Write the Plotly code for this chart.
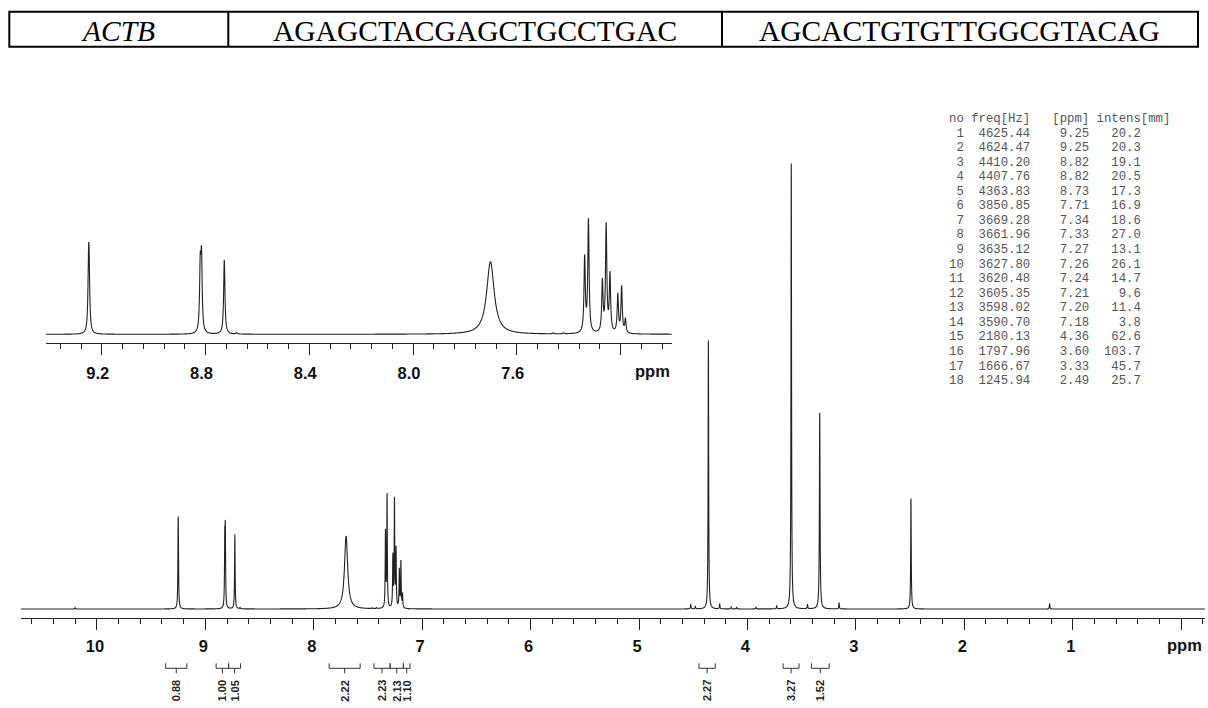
import numpy as np
import plotly.graph_objects as go

W, H = 1208, 708

# ---------------- data ----------------
gene = "ACTB"
primer_fwd = "AGAGCTACGAGCTGCCTGAC"
primer_rev = "AGCACTGTGTTGGCGTACAG"

SF_MHZ = 500.0
peak_no = list(range(1, 19))
freq_hz = [4625.44, 4624.47, 4410.20, 4407.76, 4363.83, 3850.85, 3669.28, 3661.96,
           3635.12, 3627.80, 3620.48, 3605.35, 3598.02, 3590.70, 2180.13, 1797.96,
           1666.67, 1245.94]
ppm_text = ["9.25", "9.25", "8.82", "8.82", "8.73", "7.71", "7.34", "7.33", "7.27",
            "7.26", "7.24", "7.21", "7.20", "7.18", "4.36", "3.60", "3.33", "2.49"]
intens_mm = [20.2, 20.3, 19.1, 20.5, 17.3, 16.9, 18.6, 27.0, 13.1, 26.1, 14.7, 9.6,
             11.4, 3.8, 62.6, 103.7, 45.7, 25.7]
linewidth_hz = [3.0, 3.0, 3.0, 3.0, 3.0, 17.5, 3.0, 3.0, 3.0, 3.0, 3.0, 3.0, 3.0, 3.0,
                3.0, 3.0, 3.5, 3.0]

# small unlisted signals (ppm, mm)
minor_ppm = [10.20, 8.68, 7.46, 7.42, 4.523, 4.48, 4.256, 4.15, 4.10, 3.92, 3.73, 3.446, 3.155, 1.213]
minor_mm = [0.3, 0.3, 0.2, 0.2, 1.0, 0.6, 1.2, 0.5, 0.4, 0.4, 0.7, 1.0, 1.4, 1.2]

# integrals: start ppm, end ppm, value
int_start = [9.366, 8.900, 8.785, 7.858, 7.445, 7.296, 7.173, 4.447, 3.671, 3.410]
int_end = [9.170, 8.785, 8.675, 7.572, 7.296, 7.173, 7.112, 4.297, 3.524, 3.246]
int_value = ["0.88", "1.00", "1.05", "2.22", "2.23", "2.13", "1.10", "2.27", "3.27", "1.52"]

main_tick_vals = [10, 9, 8, 7, 6, 5, 4, 3, 2, 1, 0]
main_tick_text = ["10", "9", "8", "7", "6", "5", "4", "3", "2", "1", ""]
inset_tick_vals = [9.2, 8.8, 8.4, 8.0, 7.6, 7.2]
inset_tick_text = ["9.2", "8.8", "8.4", "8.0", "7.6", ""]

# ---------------- line shape ----------------
pos = np.array(freq_hz) / SF_MHZ
wid = np.array(linewidth_hz) / SF_MHZ
I = np.array(intens_mm)


def lor(x, c, w):
    return 1.0 / (1.0 + (2.0 * (x - c) / w) ** 2)


M = np.array([[lor(pos[i], pos[j], wid[j]) for j in range(len(pos))] for i in range(len(pos))])
amp = np.linalg.solve(M, I)


def spectrum(x):
    y = np.zeros_like(x)
    for a, c, w in zip(amp, pos, wid):
        y += a * lor(x, c, w)
    for c, a in zip(minor_ppm, minor_mm):
        y += a * lor(x, c, 0.006)
    return y


x_main = np.arange(-0.22, 10.70, 0.0004)
x_in = np.arange(7.0, 9.415, 0.00015)

fig = go.Figure()
fig.add_trace(go.Scatter(x=x_main, y=spectrum(x_main), mode="lines",
                         line=dict(color="#222", width=1.1, simplify=False),
                         xaxis="x", yaxis="y", hoverinfo="skip", showlegend=False))
fig.add_trace(go.Scatter(x=x_in, y=spectrum(x_in), mode="lines",
                         line=dict(color="#222", width=1.1, simplify=False),
                         xaxis="x2", yaxis="y2", hoverinfo="skip", showlegend=False))


def PX(px):
    return px / W


def PY(py):
    return 1 - py / H


tickfont = dict(family="Liberation Sans", size=16.5, color="#111", weight="bold")
axis_common = dict(showline=True, linecolor="#222", linewidth=1.2, ticks="outside",
                   tickcolor="#222", tickwidth=1.2, ticklen=11, tickmode="array",
                   showgrid=False, zeroline=False, tickfont=tickfont)

fig.update_layout(
    width=W, height=H, margin=dict(l=0, r=0, t=0, b=0),
    paper_bgcolor="white", plot_bgcolor="white", showlegend=False,
    xaxis=dict(domain=[PX(21), PX(1205)], range=[10.70, -0.22], anchor="y",
               tickvals=main_tick_vals, ticktext=main_tick_text,
               ticklabelstandoff=2, ticklabelshift=2,
               minor=dict(ticks="outside", ticklen=5, tick0=0, dtick=0.2,
                          tickcolor="#222", tickwidth=1.2, showgrid=False),
               **axis_common),
    yaxis=dict(domain=[PY(618.3), PY(100)], range=[-2.163, 118.37], visible=False),
    xaxis2=dict(domain=[PX(46), PX(671.7)], range=[9.415, 7.003], anchor="y2",
                tickvals=inset_tick_vals, ticktext=inset_tick_text,
                ticklabelstandoff=4, ticklabelshift=4,
                minor=dict(ticks="outside", ticklen=5, tick0=7.2, dtick=0.08,
                           tickcolor="#222", tickwidth=1.2, showgrid=False),
                **axis_common),
    yaxis2=dict(domain=[PY(343.3), PY(110)], range=[-2.098, 52.28], visible=False),
)

shapes = []
ann = []

# ---- table row at the top ----
shapes.append(dict(type="rect", xref="paper", yref="paper", x0=PX(9.3), x1=PX(1198),
                   y0=PY(46.7), y1=PY(11.7), line=dict(color="black", width=2)))
for xd in [228.3, 722]:
    shapes.append(dict(type="line", xref="paper", yref="paper", x0=PX(xd), x1=PX(xd),
                       y0=PY(46.7), y1=PY(11.7), line=dict(color="black", width=2)))
for txt, cx, ital in [(gene, 118, True), (primer_fwd, 475, False), (primer_rev, 960, False)]:
    ann.append(dict(xref="paper", yref="paper", x=PX(cx), y=PY(30.5), text=txt,
                    showarrow=False, xanchor="center", yanchor="middle",
                    font=dict(family="Liberation Serif", size=29.5, color="black",
                              style="italic" if ital else "normal")))

# ---- ppm axis titles ----
ann.append(dict(xref="paper", yref="paper", x=PX(1184), y=PY(645), text="ppm", showarrow=False,
                xanchor="center", yanchor="middle", font=tickfont))
ann.append(dict(xref="paper", yref="paper", x=PX(652), y=PY(371), text="ppm", showarrow=False,
                xanchor="center", yanchor="middle", font=tickfont))

# ---- integrals ----
yl, yt, yc = 668.3, 663.3, 673.3
bcol = dict(color="#333", width=1)
for s, e, v in zip(int_start, int_end, int_value):
    shapes.append(dict(type="line", xref="x", yref="paper", x0=s, x1=e, y0=PY(yl), y1=PY(yl), line=bcol))
    for xe in (s, e):
        shapes.append(dict(type="line", xref="x", yref="paper", x0=xe, x1=xe, y0=PY(yt), y1=PY(yl), line=bcol))
    c = (s + e) / 2
    shapes.append(dict(type="line", xref="x", yref="paper", x0=c, x1=c, y0=PY(yl), y1=PY(yc), line=bcol))
    ann.append(dict(xref="x", yref="paper", x=c, y=PY(691), text=v, textangle=-90, showarrow=False,
                    xanchor="center", yanchor="middle",
                    font=dict(family="Liberation Sans", size=11, color="#222", weight="bold")))

# ---- peak list ----
NB = "\u00a0"
tfont = dict(family="Liberation Mono", size=12.3, color="#555")
header = "no freq[Hz]   [ppm] intens[mm]"
rows = [header] + [f"{n:>2}{f:>9.2f}{p:>8}{i:>7.1f}" for n, f, p, i in zip(peak_no, freq_hz, ppm_text, intens_mm)]
for k, r in enumerate(rows):
    ann.append(dict(xref="paper", yref="paper", x=PX(947.3), y=PY(119 + 14.56 * k),
                    text=r.replace(" ", NB), showarrow=False, xanchor="left", yanchor="middle",
                    font=tfont))

fig.update_layout(shapes=shapes, annotations=ann)
fig.write_html("out.html")
